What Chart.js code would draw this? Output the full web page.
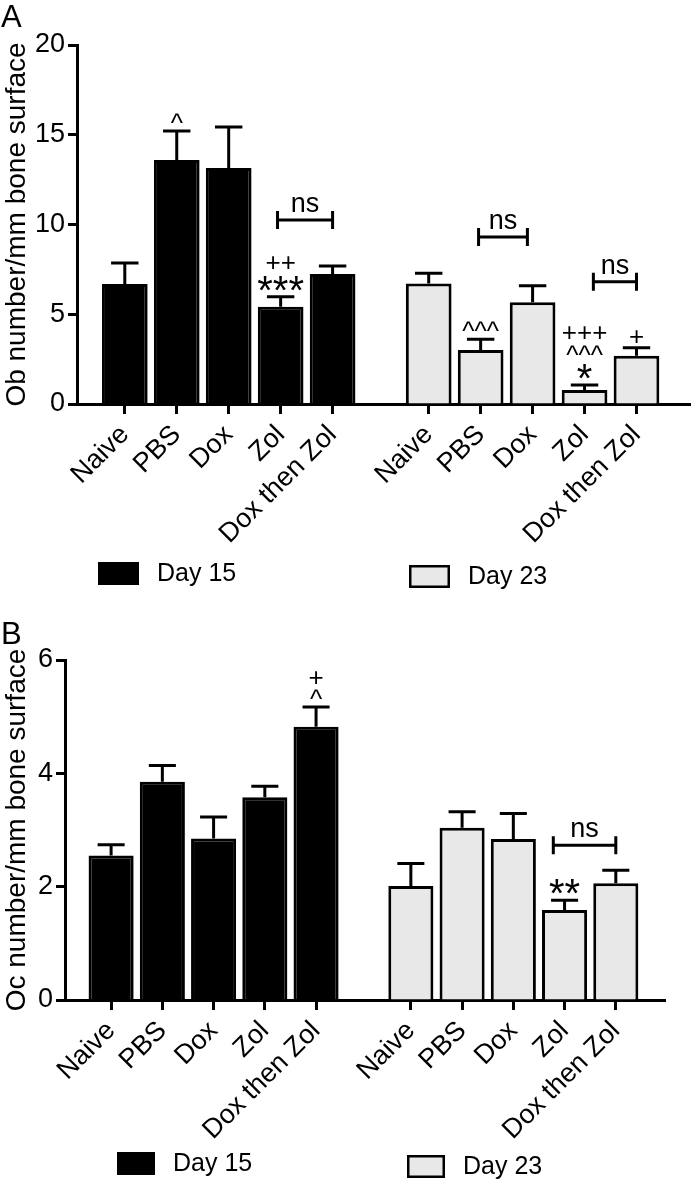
<!DOCTYPE html>
<html lang="en">
<head>
  <meta charset="UTF-8">
  <title>Ob and Oc number per mm bone surface</title>
  <script src="https://cdn.jsdelivr.net/npm/chart.js"></script>
  <style>
    body { margin: 0; background: #fff; }
    canvas { position: absolute; left: 0; }
    #chartA { top: 0; }
    #chartB { top: 600px; }
  </style>
</head>
<body>
  <canvas id="chartA" width="693" height="600"></canvas>
  <canvas id="chartB" width="693" height="585"></canvas>

  <script>
    // ---- data ----
    const groups = ['Naive', 'PBS', 'Dox', 'Zol', 'Dox then Zol'];
    const seriesNames = ['Day 15', 'Day 23'];

    // A: osteoblasts
    const obDay15 = [6.69, 13.59, 13.15, 5.42, 7.24];
    const obDay15Sem = [1.17, 1.62, 2.28, 0.56, 0.45];
    const obDay23 = [6.72, 3.01, 5.67, 0.78, 2.69];
    const obDay23Sem = [0.56, 0.60, 0.92, 0.28, 0.45];
    const obMarks15 = [[], ['^'], [], ['***', '++'], []];
    const obMarks23 = [[], ['^^^'], [], ['*', '^^^', '+++'], ['+']];
    // [day, from group, to group, level]
    const obBrackets = [[15, 2.94, 4, 10.25], [23, 0.96, 1.9, 9.3], [23, 3.17, 4, 6.81]];

    // B: osteoclasts
    const ocDay15 = [2.55, 3.85, 2.85, 3.58, 4.82];
    const ocDay15Sem = [0.19, 0.29, 0.38, 0.19, 0.35];
    const ocDay23 = [2.01, 3.04, 2.84, 1.59, 2.06];
    const ocDay23Sem = [0.40, 0.28, 0.45, 0.17, 0.23];
    const ocMarks15 = [[], [], [], [], ['^', '+']];
    const ocMarks23 = [[], [], [], ['**'], []];
    const ocBrackets = [[23, 2.78, 4, 2.73]];

    const GROUP_SHIFT = 5.85;   // distance between the two day groups, in bar slots
    const FONT = '"Liberation Sans", Arial, Helvetica, sans-serif';

    Chart.defaults.font.family = FONT;
    Chart.defaults.color = '#000';

    const tickPositions = groups.map((g, i) => i).concat(groups.map((g, i) => i + GROUP_SHIFT));
    const tickLabels = groups.concat(groups);

    const extras = {
      id: 'extras',
      afterDatasetsDraw(chart, args, opts) {
        const ctx = chart.ctx;
        const xs = chart.scales.x, ys = chart.scales.y;
        ctx.save();
        ctx.strokeStyle = '#000';
        ctx.fillStyle = '#000';
        ctx.lineWidth = 3;
        ctx.textAlign = 'center';
        ctx.textBaseline = 'alphabetic';

        chart.data.datasets.forEach((ds, di) => {
          const meta = chart.getDatasetMeta(di);
          meta.data.forEach((bar, i) => {
            const top = ys.getPixelForValue(ds.data[i].y + ds.sem[i]);
            const half = bar.width * 0.3;
            ctx.beginPath();
            ctx.moveTo(bar.x, bar.y);
            ctx.lineTo(bar.x, top);
            ctx.moveTo(bar.x - half, top);
            ctx.lineTo(bar.x + half, top);
            ctx.stroke();

            let c = top;
            ds.marks[i].forEach((txt, k) => {
              const star = txt.includes('*');
              c -= k === 0 ? (star ? 16 : 12) : 18.5;
              const size = star ? 40 : 26;
              const mid = star ? 0.58 : (txt.includes('^') ? 0.51 : 0.35);
              ctx.font = size + 'px ' + FONT;
              ctx.fillText(txt, bar.x, c + mid * size);
            });
          });
        });

        opts.brackets.forEach(([day, from, to, level]) => {
          const shift = day === 23 ? GROUP_SHIFT : 0;
          const x1 = xs.getPixelForValue(from + shift);
          const x2 = xs.getPixelForValue(to + shift);
          const yy = ys.getPixelForValue(level);
          ctx.beginPath();
          ctx.moveTo(x1, yy); ctx.lineTo(x2, yy);
          ctx.moveTo(x1, yy - 9); ctx.lineTo(x1, yy + 9);
          ctx.moveTo(x2, yy - 9); ctx.lineTo(x2, yy + 9);
          ctx.stroke();
          ctx.font = '27px ' + FONT;
          ctx.fillText('ns', (x1 + x2) / 2, yy - 15 + 0.26 * 27);
        });
        ctx.restore();
      },
      afterDraw(chart, args, opts) {
        const ctx = chart.ctx;
        ctx.save();
        ctx.fillStyle = '#000';
        ctx.textAlign = 'left';
        ctx.textBaseline = 'alphabetic';
        ctx.font = '31px ' + FONT;
        ctx.fillText(opts.letter[0], opts.letter[1], opts.letter[2]);

        // legend
        ctx.textBaseline = 'middle';
        ctx.font = '25px ' + FONT;
        chart.data.datasets.forEach((ds, di) => {
          const [bx, by] = opts.legend[di];
          const [bw, bh] = opts.legendBox;
          ctx.fillStyle = ds.backgroundColor;
          ctx.fillRect(bx, by, bw, bh);
          ctx.strokeStyle = '#000';
          ctx.lineWidth = 2.5;
          ctx.strokeRect(bx + 1.25, by + 1.25, bw - 2.5, bh - 2.5);
          ctx.fillStyle = '#000';
          ctx.fillText(ds.label, bx + bw + 18, by + bh / 2 + 1);
        });
        ctx.restore();
      }
    };

    function makeChart(id, p) {
      const datasets = [
        { label: seriesNames[0], values: p.day15, sem: p.sem15, marks: p.marks15, shift: 0, bg: '#000000' },
        { label: seriesNames[1], values: p.day23, sem: p.sem23, marks: p.marks23, shift: GROUP_SHIFT, bg: '#e8e8e8' }
      ].map(s => ({
        label: s.label,
        data: s.values.map((v, i) => ({ x: i + s.shift, y: v })),
        sem: s.sem,
        marks: s.marks,
        backgroundColor: s.bg,
        borderColor: '#000',
        borderWidth: 3,
        grouped: false,
        barPercentage: 0.88,
        categoryPercentage: 1
      }));

      return new Chart(document.getElementById(id), {
        type: 'bar',
        data: { datasets },
        options: {
          responsive: false,
          animation: false,
          devicePixelRatio: 1,
          layout: { padding: { top: p.top, right: p.right, bottom: 0, left: 0 } },
          plugins: {
            legend: { display: false },
            tooltip: { enabled: false },
            extras: { brackets: p.brackets, letter: p.letter, legend: p.legend, legendBox: p.legendBox }
          },
          scales: {
            x: {
              type: 'linear',
              min: p.xMin,
              max: p.xMax,
              offset: false,
              afterBuildTicks: s => { s.ticks = tickPositions.map(v => ({ value: v })); },
              afterFit: s => { s.height = p.xHeight; },
              ticks: {
                autoSkip: false,
                minRotation: 45,
                maxRotation: 45,
                padding: 5,
                font: { size: 27 },
                color: '#000',
                callback: (v, i) => tickLabels[i]
              },
              grid: { drawOnChartArea: false, drawTicks: true, tickLength: 10, tickWidth: 3, tickColor: '#000', offset: false },
              border: { display: true, color: '#000', width: 3 }
            },
            y: {
              min: 0,
              max: p.yMax,
              afterFit: s => { s.width = p.yWidth; },
              ticks: { stepSize: p.yStep, padding: 3, font: { size: 27 }, color: '#000' },
              grid: { drawOnChartArea: false, drawTicks: true, tickLength: 9, tickWidth: 3, tickColor: '#000' },
              border: { display: true, color: '#000', width: 3 },
              title: { display: true, text: p.yTitle, font: { size: 28 }, color: '#000', padding: 0 }
            }
          }
        },
        plugins: [extras]
      });
    }

    makeChart('chartA', {
      day15: obDay15, sem15: obDay15Sem, marks15: obMarks15,
      day23: obDay23, sem23: obDay23Sem, marks23: obMarks23,
      brackets: obBrackets,
      yMax: 20, yStep: 5, yTitle: 'Ob number/mm bone surface',
      xMin: -0.92, xMax: 10.88,
      top: 45, right: 3, yWidth: 77, xHeight: 196,
      letter: ['A', 1, 27],
      legend: [[98, 562], [409, 565]], legendBox: [41, 23]
    });

    makeChart('chartB', {
      day15: ocDay15, sem15: ocDay15Sem, marks15: ocMarks15,
      day23: ocDay23, sem23: ocDay23Sem, marks23: ocMarks23,
      brackets: ocBrackets,
      yMax: 6, yStep: 2, yTitle: 'Oc number/mm bone surface',
      xMin: -0.90, xMax: 10.81,
      top: 60, right: 28, yWidth: 65, xHeight: 185,
      letter: ['B', 1, 44],
      legend: [[117, 552], [407, 555]], legendBox: [38, 23]
    });
  </script>
</body>
</html>
